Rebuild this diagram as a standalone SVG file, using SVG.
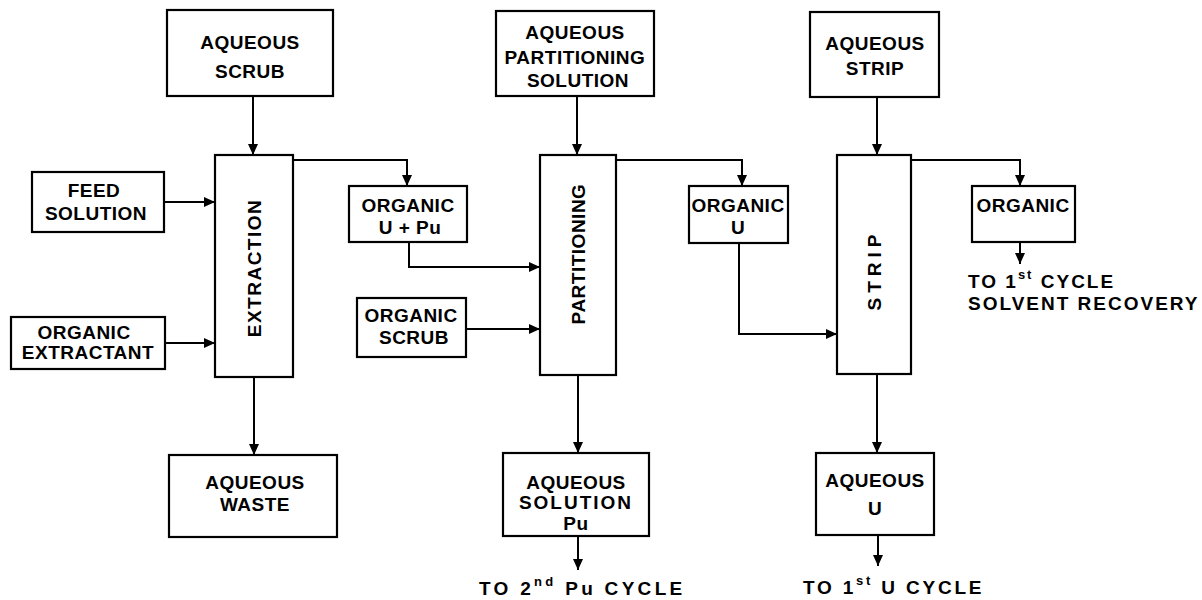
<svg xmlns="http://www.w3.org/2000/svg" width="1202" height="600" viewBox="0 0 1202 600">
<style>
.box{fill:#fff;stroke:#000;stroke-width:2.2}
.t{font-family:"Liberation Sans",Arial,sans-serif;font-weight:bold;font-size:19px;fill:#000;text-anchor:middle;letter-spacing:0.5px}
.l{font-family:"Liberation Sans",Arial,sans-serif;font-weight:bold;font-size:19px;fill:#000;letter-spacing:2px}
.v{font-family:"Liberation Sans",Arial,sans-serif;font-weight:bold;font-size:19px;fill:#000;text-anchor:middle;dominant-baseline:central}
.c{fill:none;stroke:#000;stroke-width:2;marker-end:url(#ah)}
.sup{font-size:13px}
</style>
<defs>
<marker id="ah" markerWidth="11" markerHeight="10" refX="11" refY="5" orient="auto" markerUnits="userSpaceOnUse">
<path d="M0,0 L11,5 L0,10 z" fill="#000"/>
</marker>
</defs>
<rect width="1202" height="600" fill="#fff"/>
<g id="connectors">
<path class="c" d="M253,96 V155"/>
<path class="c" d="M164,202 H215"/>
<path class="c" d="M165,343 H215"/>
<path class="c" d="M293,160 H407 V186"/>
<path class="c" d="M254,377 V455"/>
<path class="c" d="M409,242 V267 H540"/>
<path class="c" d="M577,96 V155"/>
<path class="c" d="M466,329 H540"/>
<path class="c" d="M616,160 H742 V186"/>
<path class="c" d="M578,374 V453"/>
<path class="c" d="M578,536 V570"/>
<path class="c" d="M739,243 V334 H837"/>
<path class="c" d="M877,97 V155"/>
<path class="c" d="M911,160 H1020 V186"/>
<path class="c" d="M1020,242 V264"/>
<path class="c" d="M877,374 V453"/>
<path class="c" d="M878,535 V566"/>
</g>
<g id="aqueous-scrub">
<rect class="box" x="167" y="10" width="166" height="86"/>
<text class="t" x="250" y="49">AQUEOUS</text>
<text class="t" x="250" y="78">SCRUB</text>
</g>
<g id="feed-solution">
<rect class="box" x="32" y="172" width="132" height="60"/>
<text class="t" x="94" y="197">FEED</text>
<text class="t" x="96" y="220">SOLUTION</text>
</g>
<g id="organic-extractant">
<rect class="box" x="11" y="317" width="154" height="52"/>
<text class="t" x="84" y="339">ORGANIC</text>
<text class="t" x="88" y="359">EXTRACTANT</text>
</g>
<g id="extraction">
<rect class="box" x="215" y="155" width="78" height="222"/>
<text class="v" transform="translate(254,268) rotate(-90)" style="letter-spacing:1.5px">EXTRACTION</text>
</g>
<g id="aqueous-waste">
<rect class="box" x="169" y="455" width="168" height="82"/>
<text class="t" x="255" y="489">AQUEOUS</text>
<text class="t" x="255" y="511">WASTE</text>
</g>
<g id="organic-u-pu">
<rect class="box" x="349" y="186" width="118" height="56"/>
<text class="t" x="408" y="212">ORGANIC</text>
<text class="t" x="410" y="234" xml:space="preserve">U + Pu</text>
</g>
<g id="organic-scrub">
<rect class="box" x="357" y="298" width="109" height="59"/>
<text class="t" x="411" y="322">ORGANIC</text>
<text class="t" x="414" y="344">SCRUB</text>
</g>
<g id="aqueous-partitioning-solution">
<rect class="box" x="496" y="11" width="158" height="85"/>
<text class="t" x="575" y="39">AQUEOUS</text>
<text class="t" x="575" y="64">PARTITIONING</text>
<text class="t" x="578" y="87">SOLUTION</text>
</g>
<g id="partitioning">
<rect class="box" x="540" y="155" width="76" height="220"/>
<text class="v" transform="translate(578,254) rotate(-90)" style="letter-spacing:0.5px">PARTITIONING</text>
</g>
<g id="aqueous-solution-pu">
<rect class="box" x="503" y="453" width="146" height="83"/>
<text class="t" x="576" y="489">AQUEOUS</text>
<text class="t" x="576" y="509" style="letter-spacing:2px">SOLUTION</text>
<text class="t" x="576" y="530">Pu</text>
</g>
<g id="to-2nd-pu-cycle">
<text class="l" x="479" y="595" style="letter-spacing:3.3px">TO 2<tspan class="sup" dy="-9">nd</tspan><tspan dy="9"> Pu CYCLE</tspan></text>
</g>
<g id="organic-u">
<rect class="box" x="689" y="186" width="99" height="57"/>
<text class="t" x="738" y="212">ORGANIC</text>
<text class="t" x="738" y="234">U</text>
</g>
<g id="aqueous-strip">
<rect class="box" x="810" y="12" width="129" height="85"/>
<text class="t" x="875" y="50">AQUEOUS</text>
<text class="t" x="875" y="75">STRIP</text>
</g>
<g id="strip">
<rect class="box" x="837" y="155" width="74" height="219"/>
<text class="v" transform="translate(874,270) rotate(-90)" style="letter-spacing:5px">STRIP</text>
</g>
<g id="organic">
<rect class="box" x="972" y="186" width="103" height="56"/>
<text class="t" x="1023" y="212">ORGANIC</text>
</g>
<g id="to-solvent-recovery">
<text class="l" x="968" y="288">TO 1<tspan class="sup" dy="-9">st</tspan><tspan dy="9"> CYCLE</tspan></text>
<text class="l" x="968" y="310">SOLVENT RECOVERY</text>
</g>
<g id="aqueous-u">
<rect class="box" x="816" y="453" width="118" height="82"/>
<text class="t" x="875" y="487">AQUEOUS</text>
<text class="t" x="875" y="515">U</text>
</g>
<g id="to-1st-u-cycle">
<text class="l" x="803" y="594" style="letter-spacing:2.8px">TO 1<tspan class="sup" dy="-9">st</tspan><tspan dy="9"> U CYCLE</tspan></text>
</g>
</svg>
